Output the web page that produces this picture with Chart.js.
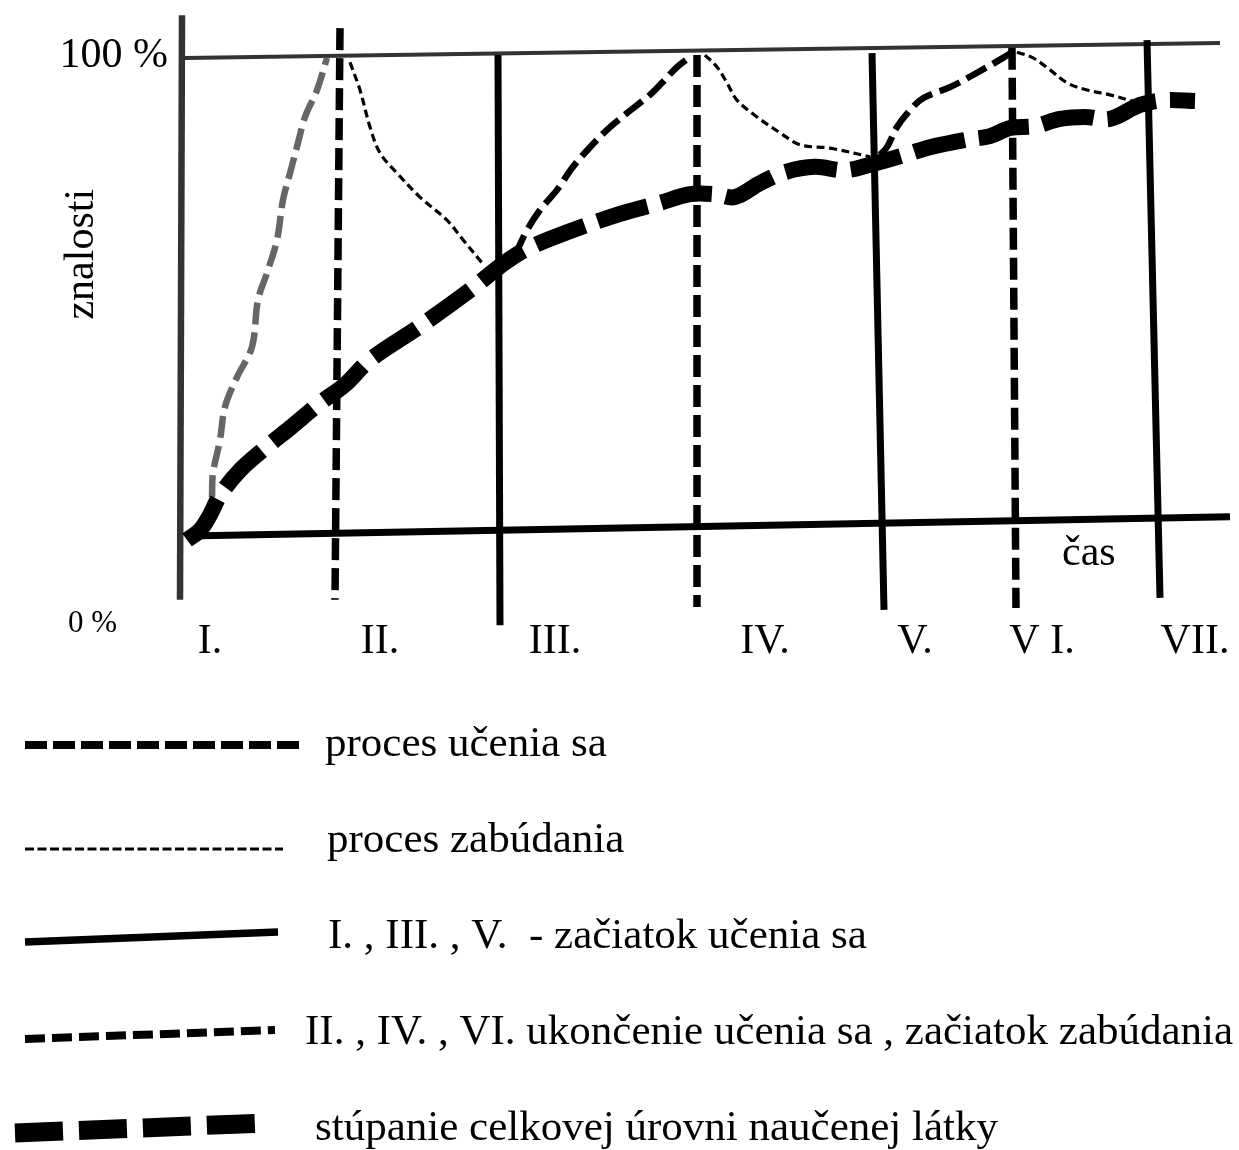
<!DOCTYPE html>
<html>
<head>
<meta charset="utf-8">
<script src="https://cdn.jsdelivr.net/npm/chart.js@4/dist/chart.umd.min.js"></script>
<style>
  html, body { margin: 0; padding: 0; background: #fff; }
  canvas { display: block; }
</style>
</head>
<body>
<canvas id="curveChart" width="1239" height="1150"></canvas>
<script>
// x = time, y = knowledge (%)

// phase names under the time axis
const phaseNames = ["I.", "II.", "III.", "IV.", "V.", "V I.", "VII."];
const phaseNameX = [2.8, 19.8, 37.3, 58.3, 73.3, 86.0, 101.3];

// phase dividers (start of learning = solid, end of learning = dashed)
const dividerTopX = [15.8, 31.6, 51.5, 69.0, 83.0, 96.5];
const dividerTopY = [105.6, 100.0, 100.0, 100.4, 101.5, 103.1];
const dividerBottomX = [15.3, 31.8, 51.5, 70.2, 83.4, 97.8];
const dividerBottomY = [-13.5, -18.8, -15.0, -15.6, -15.2, -13.1];
const dividerDashed = [true, false, true, false, true, false];

// frame lines
const axisLine = [[0.0, 108.3], [-0.2, -13.5]];
const topLine = [[0.3, 99.4], [103.8, 102.5]];
const baseLine = [[0.6, -0.2], [104.8, 3.8]];

// learning (first one is drawn grey)
const learning1 = [[3.0, 7.9], [3.1, 12.9], [3.8, 19.8], [4.3, 26.7], [5.5, 32.9], [7.0, 39.2],
  [7.6, 49.0], [8.5, 54.6], [9.5, 61.5], [10.1, 69.8], [10.8, 75.4], [11.6, 81.7],
  [12.3, 87.1], [13.5, 92.7], [14.5, 99.4]];
const learning2 = [[33.3, 58.3], [34.5, 63.5], [35.8, 67.7], [37.5, 71.9], [39.1, 76.7],
  [40.8, 80.8], [42.5, 84.4], [44.5, 87.9], [46.8, 91.7], [48.0, 94.2], [49.5, 97.5], [50.8, 99.6]];
const learning3 = [[69.8, 79.2], [70.5, 80.8], [71.5, 85.0], [72.8, 88.5], [74.1, 91.0],
  [76.8, 93.3], [79.5, 96.3], [82.1, 99.4], [83.0, 100.6]];

// forgetting
const forgetting1 = [[16.8, 98.5], [17.8, 92.7], [18.8, 85.0], [19.8, 79.6], [21.5, 75.4],
  [23.8, 70.4], [26.5, 65.6], [28.1, 61.5], [30.0, 56.7]];
const forgetting2 = [[52.3, 100.0], [53.5, 97.5], [54.5, 94.2], [55.5, 90.6], [57.5, 87.1],
  [59.8, 83.8], [61.8, 81.3], [64.8, 80.6], [68.8, 78.8]];
const forgetting3 = [[83.5, 100.6], [85.1, 99.4], [86.8, 96.9], [88.5, 94.2], [90.5, 92.7],
  [92.8, 91.7], [95.3, 90.2]];

// overall level of learned material
const overall = [[0.5, -1.0], [1.8, 1.0], [2.8, 4.2], [3.8, 8.3], [5.8, 13.5], [8.3, 18.1],
  [10.8, 22.3], [13.8, 27.5], [16.3, 31.3], [18.8, 36.5], [23.8, 43.5], [28.8, 51.0],
  [31.8, 56.0], [34.3, 59.4], [38.3, 62.9], [43.8, 66.9], [47.8, 69.2], [50.8, 71.0],
  [53.3, 71.0], [55.3, 70.4], [57.8, 73.3], [60.3, 75.6], [63.3, 76.7], [66.3, 76.0],
  [69.1, 77.3], [72.3, 79.2], [74.8, 80.8], [78.3, 82.3], [80.8, 83.1], [82.8, 84.8],
  [85.3, 85.2], [87.8, 86.7], [90.3, 87.1], [92.8, 86.7], [95.8, 89.6], [98.3, 90.6], [101.3, 90.4]];

const legendLabels = [
  "proces učenia sa",
  "proces zabúdania",
  "I. , III. , V.  - začiatok učenia sa",
  "II. , IV. , VI. ukončenie učenia sa , začiatok zabúdania",
  "stúpanie celkovej úrovni naučenej látky"
];

const toPoints = arr => arr.map(p => ({ x: p[0], y: p[1] }));
const serif = "'Liberation Serif', 'DejaVu Serif', serif";

// line styles
const styles = {
  overall:    { color: "#000", width: 16, dash: [52, 14], tension: 0.35 },
  learning:   { color: "#000", width: 6.5, dash: [22, 8], tension: 0.35 },
  learningG:  { color: "#666", width: 6.5, dash: [22, 8], tension: 0.35 },
  forgetting: { color: "#000", width: 3.2, dash: [8, 4.5], tension: 0.35 },
  solid:      { color: "#000", width: 7, dash: [], tension: 0 },
  dashed:     { color: "#000", width: 7.5, dash: [22, 8], tension: 0 },
  frame:      { color: "#333", width: 6.5, dash: [], tension: 0 },
  topFrame:   { color: "#333", width: 4, dash: [], tension: 0 },
  base:       { color: "#000", width: 7, dash: [], tension: 0 }
};

function lineSet(points, s) {
  return {
    data: toPoints(points),
    borderColor: s.color,
    borderWidth: s.width,
    borderDash: s.dash,
    borderCapStyle: "butt",
    tension: s.tension,
    fill: false,
    pointRadius: 0
  };
}

const datasets = [
  lineSet(overall, styles.overall),
  lineSet(learning1, styles.learningG),
  lineSet(learning2, styles.learning),
  lineSet(learning3, styles.learning),
  lineSet(forgetting1, styles.forgetting),
  lineSet(forgetting2, styles.forgetting),
  lineSet(forgetting3, styles.forgetting)
];
dividerTopX.forEach((x, i) => {
  datasets.push(lineSet([[x, dividerTopY[i]], [dividerBottomX[i], dividerBottomY[i]]],
    dividerDashed[i] ? styles.dashed : styles.solid));
});
datasets.push(lineSet(topLine, styles.topFrame));
datasets.push(lineSet(baseLine, styles.base));
datasets.push(lineSet(axisLine, styles.frame));

// texts and legend
const textPlugin = {
  id: "texts",
  afterDraw(chart) {
    const ctx = chart.ctx;
    const xs = chart.scales.x, ys = chart.scales.y;
    ctx.save();
    ctx.fillStyle = "#000";
    ctx.textBaseline = "alphabetic";

    ctx.font = "42px " + serif;
    ctx.textAlign = "center";
    phaseNames.forEach((t, i) => {
      ctx.fillText(t, xs.getPixelForValue(phaseNameX[i]), ys.getPixelForValue(-24.5));
    });

    ctx.textAlign = "left";
    ctx.fillText("čas", xs.getPixelForValue(88.0), ys.getPixelForValue(-6.3));
    ctx.textAlign = "right";
    ctx.fillText("100 %", xs.getPixelForValue(-1.4), ys.getPixelForValue(97.5));
    ctx.font = "31px " + serif;
    ctx.textAlign = "left";
    ctx.fillText("0 %", xs.getPixelForValue(-11.4), ys.getPixelForValue(-20.2));

    ctx.save();
    ctx.font = "42px " + serif;
    ctx.translate(xs.getPixelForValue(-10.0), ys.getPixelForValue(58.5));
    ctx.rotate(-Math.PI / 2);
    ctx.textAlign = "center";
    ctx.textBaseline = "middle";
    ctx.fillText("znalosti", 0, 0);
    ctx.restore();

    // legend rows under the plot
    const samples = [
      { s: { width: 8, dash: [22, 6] }, x1: 25, x2: 300, dy1: 0, dy2: 0, tx: 325 },
      { s: { width: 3, dash: [9, 3.5] }, x1: 25, x2: 283, dy1: 8, dy2: 8, tx: 327 },
      { s: { width: 7.5, dash: [] }, x1: 25, x2: 278, dy1: 5, dy2: -5, tx: 328 },
      { s: { width: 8, dash: [20, 7] }, x1: 25, x2: 275, dy1: 6, dy2: -3, tx: 305 },
      { s: { width: 19, dash: [48, 16] }, x1: 15, x2: 265, dy1: 4, dy2: -6, tx: 315 }
    ];
    const top = chart.chartArea.bottom + 65;
    legendLabels.forEach((label, i) => {
      const r = samples[i];
      const y = top + i * 96;
      ctx.beginPath();
      ctx.strokeStyle = "#000";
      ctx.lineWidth = r.s.width;
      ctx.lineCap = "butt";
      ctx.setLineDash(r.s.dash);
      ctx.moveTo(r.x1, y + r.dy1);
      ctx.lineTo(r.x2, y + r.dy2);
      ctx.stroke();
      ctx.setLineDash([]);
      ctx.font = "43px " + serif;
      ctx.textAlign = "left";
      ctx.textBaseline = "middle";
      ctx.fillText(label, r.tx, y);
    });
    ctx.restore();
  }
};

new Chart(document.getElementById("curveChart"), {
  type: "line",
  data: { datasets: datasets },
  options: {
    responsive: false,
    animation: false,
    layout: { padding: { left: 0, right: 0, top: 0, bottom: 470 } },
    scales: {
      x: { type: "linear", min: -18.2, max: 105.7, display: false },
      y: { type: "linear", min: -30.2, max: 111.46, display: false }
    },
    plugins: {
      legend: { display: false },
      tooltip: { enabled: false }
    }
  },
  plugins: [textPlugin]
});
</script>
</body>
</html>
